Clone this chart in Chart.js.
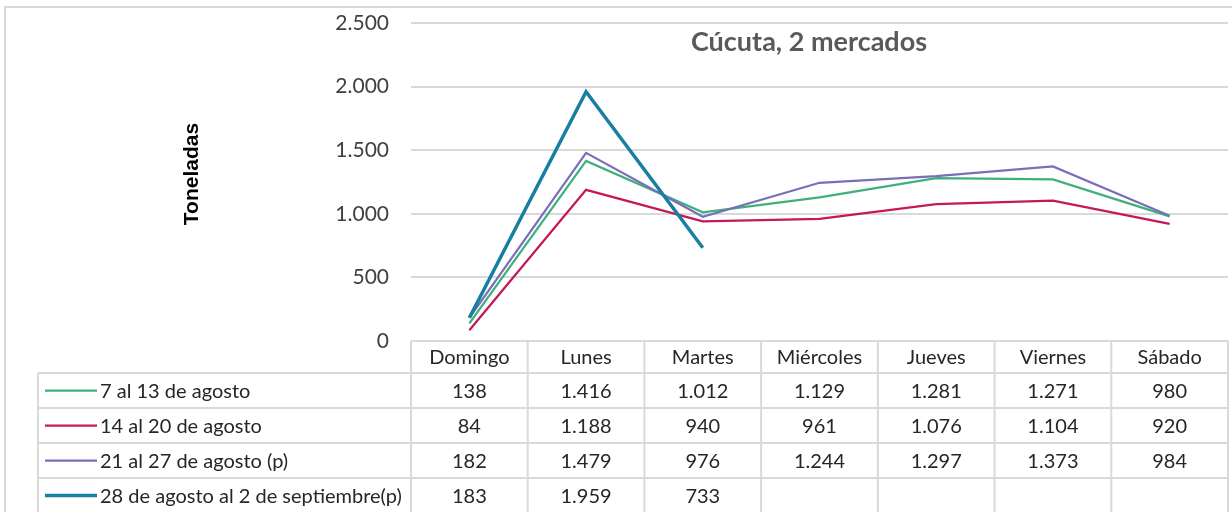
<!DOCTYPE html>
<html>
<head>
    <meta charset="utf-8">
    <title>Cúcuta, 2 mercados</title>
    <style>
        body { margin: 0; background: #fff; }
        .chart-container { width: 1232px; height: 512px; position: relative; }
    </style>
    <script src="https://cdn.jsdelivr.net/npm/chart.js@4/dist/chart.umd.min.js"></script>
</head>
<body>
    <div class="chart-container">
        <canvas id="tonsChart"></canvas>
    </div>
    <script>
        const days = ['Domingo', 'Lunes', 'Martes', 'Miércoles', 'Jueves', 'Viernes', 'Sábado'];
        const seriesNames = ['7 al 13 de agosto', '14 al 20 de agosto', '21 al 27 de agosto (p)', '28 de agosto al 2 de septiembre(p)'];
        const week1 = [138, 1416, 1012, 1129, 1281, 1271, 980];
        const week2 = [84, 1188, 940, 961, 1076, 1104, 920];
        const week3 = [182, 1479, 976, 1244, 1297, 1373, 984];
        const week4 = [183, 1959, 733, null, null, null, null];
        const yTicks = [0, 500, 1000, 1500, 2000, 2500];

        const colors = ['#3FAF7C', '#C5185A', '#7A6EB9', '#167FA2'];
        const widths = [2.25, 2.25, 2.25, 3.5];
        const allSeries = [week1, week2, week3, week4];

        const gridColor = '#d9d9d9';
        const textColor = '#262626';
        const font = 'Lato, "Open Sans", sans-serif';

        // thousands with a dot, as in the original
        function fmt(v) {
            return String(v).replace(/\B(?=(\d{3})+(?!\d))/g, '.');
        }

        const tablePlugin = {
            id: 'tablePlugin',
            afterDraw(chart) {
                const ctx = chart.ctx;
                const x = chart.scales.x;
                const area = chart.chartArea;
                const colW = (x.right - x.left) / days.length;
                const headTop = area.bottom;
                const headH = 32;
                const rowH = 35;
                const legendLeft = 38;

                ctx.save();
                // outer frame
                ctx.strokeStyle = gridColor;
                ctx.lineWidth = 2;
                ctx.strokeRect(5, 7, 1240, 540);

                // title
                ctx.fillStyle = '#595959';
                ctx.font = 'bold 27px ' + font;
                ctx.textAlign = 'center';
                ctx.textBaseline = 'middle';
                ctx.fillText('Cúcuta, 2 mercados', 809, 42);

                // axis title
                ctx.save();
                ctx.translate(192, 174);
                ctx.rotate(-Math.PI / 2);
                ctx.fillStyle = '#000';
                ctx.font = 'bold 21px "Liberation Sans", Arial, sans-serif';
                ctx.fillText('Toneladas', 0, 0);
                ctx.restore();

                // grid of the data table
                ctx.strokeStyle = gridColor;
                ctx.lineWidth = 2;
                ctx.beginPath();
                ctx.moveTo(x.left, headTop);
                ctx.lineTo(x.right, headTop);
                for (let r = 0; r <= allSeries.length; r++) {
                    const y = headTop + headH + r * rowH;
                    ctx.moveTo(legendLeft, y);
                    ctx.lineTo(x.right, y);
                }
                const bottom = headTop + headH + allSeries.length * rowH;
                ctx.moveTo(legendLeft, headTop + headH);
                ctx.lineTo(legendLeft, bottom);
                for (let c = 0; c <= days.length; c++) {
                    const cx = x.left + c * colW;
                    ctx.moveTo(cx, headTop);
                    ctx.lineTo(cx, bottom);
                }
                ctx.stroke();

                // header
                ctx.fillStyle = textColor;
                ctx.font = '20px ' + font;
                ctx.textAlign = 'center';
                ctx.textBaseline = 'middle';
                days.forEach((d, i) => {
                    ctx.fillText(d, x.getPixelForValue(i), headTop + headH / 2 + 1);
                });

                // rows
                allSeries.forEach((vals, r) => {
                    const cy = headTop + headH + r * rowH + rowH / 2 + 1;
                    ctx.textAlign = 'center';
                    ctx.fillStyle = textColor;
                    vals.forEach((v, i) => {
                        if (v !== null) ctx.fillText(fmt(v), x.getPixelForValue(i), cy);
                    });
                    ctx.strokeStyle = colors[r];
                    ctx.lineWidth = widths[r];
                    ctx.beginPath();
                    ctx.moveTo(45, cy - 1);
                    ctx.lineTo(97, cy - 1);
                    ctx.stroke();
                    ctx.textAlign = 'left';
                    ctx.fillText(seriesNames[r], 100, cy);
                });
                ctx.restore();
            }
        };

        const ctx = document.getElementById('tonsChart').getContext('2d');
        new Chart(ctx, {
            type: 'line',
            data: {
                labels: days,
                datasets: allSeries.map((vals, i) => ({
                    label: seriesNames[i],
                    data: vals,
                    borderColor: colors[i],
                    backgroundColor: colors[i],
                    borderWidth: widths[i],
                    pointRadius: 0,
                    tension: 0,
                    spanGaps: false,
                    order: allSeries.length - i
                }))
            },
            options: {
                responsive: true,
                maintainAspectRatio: false,
                animation: false,
                layout: { padding: { top: 23, bottom: 171, right: 4, left: 0 } },
                plugins: {
                    legend: { display: false },
                    tooltip: { enabled: false }
                },
                scales: {
                    x: {
                        display: false,
                        offset: true
                    },
                    y: {
                        min: 0,
                        max: 2500,
                        afterBuildTicks: scale => {
                            scale.ticks = yTicks.map(v => ({ value: v }));
                        },
                        afterFit: scale => {
                            scale.width = 411;
                            scale.paddingTop = 0;
                            scale.paddingBottom = 0;
                        },
                        border: { display: false },
                        grid: { color: gridColor, lineWidth: 2, drawTicks: false },
                        ticks: {
                            padding: 22,
                            color: '#404040',
                            font: { family: font, size: 21 },
                            callback: v => fmt(v)
                        }
                    }
                }
            },
            plugins: [tablePlugin]
        });
    </script>
</body>
</html>
